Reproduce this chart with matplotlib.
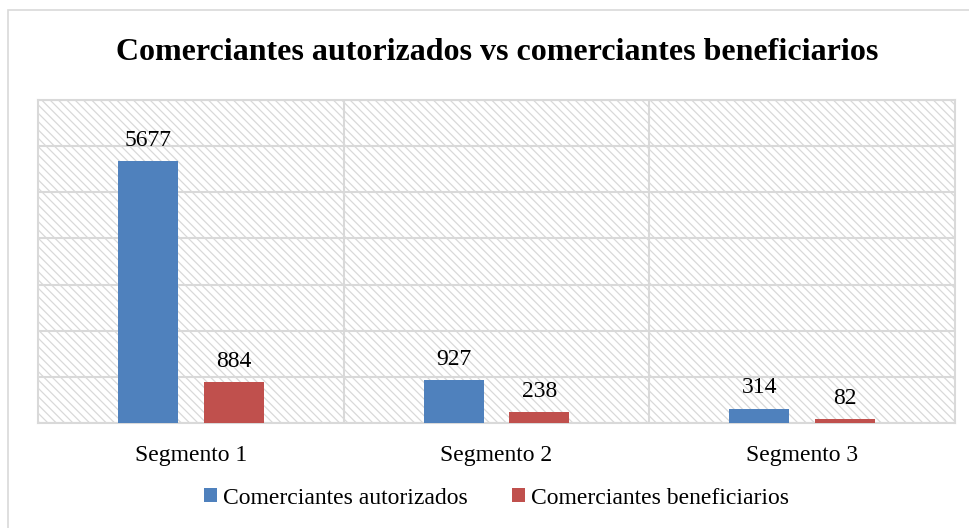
import matplotlib
matplotlib.use('Agg')
from matplotlib import pyplot as plt
from matplotlib.patches import Rectangle
import numpy as np

# data
segments = ['Segmento 1', 'Segmento 2', 'Segmento 3']
autorizados = [5677, 927, 314]
beneficiarios = [884, 238, 82]
series_names = ['Comerciantes autorizados', 'Comerciantes beneficiarios']
title = 'Comerciantes autorizados vs comerciantes beneficiarios'

blue = '#4F81BD'
red = '#C0504D'
grid_c = '#d9d9d9'

plt.rcParams['font.family'] = ['Liberation Serif', 'DejaVu Serif']
plt.rcParams['hatch.color'] = grid_c
plt.rcParams['hatch.linewidth'] = 0.9

fig = plt.figure(figsize=(9.7, 5.28), dpi=100)

# outer chart frame (cut off on the right and bottom like the reference)
fig.patches.append(Rectangle((8 / 970, -0.05), 1.2, 1.05 - 10 / 528,
                             transform=fig.transFigure, fill=False,
                             edgecolor=grid_c, linewidth=1.2, zorder=0))

ax = fig.add_axes([38 / 970, 105 / 528, 917 / 970, 323 / 528])
ax.patch.set_hatch('\\\\\\\\')
ax.patch.set_edgecolor(grid_c)

x = np.arange(len(segments))
w = 0.196
off = 0.14
b1 = ax.bar(x - off, autorizados, w, color=blue, label=series_names[0], zorder=3)
b2 = ax.bar(x + off, beneficiarios, w, color=red, label=series_names[1], zorder=3)

for bars in (b1, b2):
    for r in bars:
        ax.annotate(str(int(r.get_height())),
                    (r.get_x() + r.get_width() / 2, r.get_height()),
                    xytext=(0, 11), textcoords='offset points',
                    ha='center', va='baseline', fontsize=17)

ax.set_xlim(-0.5, 2.5)
ax.set_ylim(0, 7000)
ax.set_yticks(np.arange(0, 7001, 1000))
ax.set_yticklabels([])
ax.tick_params(axis='y', length=0)
ax.set_xticks(x)
ax.set_xticklabels(segments, fontsize=17)
ax.tick_params(axis='x', length=0, pad=16)
ax.grid(axis='y', color=grid_c, linewidth=1.5, zorder=1)
ax.set_axisbelow(True)
for b in [0.5, 1.5]:
    ax.axvline(b, color=grid_c, linewidth=1.5, zorder=1)
for s in ax.spines.values():
    s.set_color(grid_c)
    s.set_linewidth(1.5)

fig.text(497 / 970, 1 - 52 / 528, title, ha='center', va='center',
         fontsize=23, fontweight='bold')

fig.legend(loc='center', bbox_to_anchor=(0.512, 1 - 498 / 528), ncol=2,
           frameon=False, fontsize=17, handlelength=0.55, handleheight=0.55,
           handletextpad=0.25, columnspacing=1.9)

fig.savefig('out.png', dpi=100)
